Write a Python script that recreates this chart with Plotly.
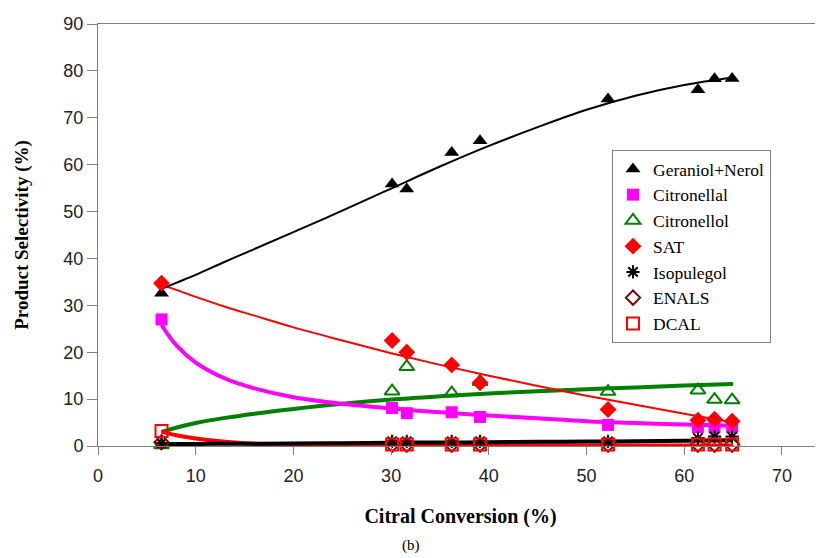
import plotly.graph_objects as go

# Measured data (Citral conversion % vs product selectivity %)
conversion = [6.5, 30.1, 31.6, 36.2, 39.1, 52.2, 61.4, 63.1, 64.9]
geraniol_nerol = [32.6, 55.9, 54.8, 62.6, 65.1, 74.0, 76.0, 78.3, 78.4]
citronellal = [27.0, 8.1, 7.0, 7.2, 6.2, 4.5, 4.0, 4.0, 4.0]
citronellol = [0.2, 11.7, 16.9, 11.3, 13.7, 11.6, 11.9, 9.9, 9.8]
sat = [34.7, 22.5, 20.0, 17.3, 13.5, 7.8, 5.5, 5.7, 5.3]
isopulegol = [0.6, 1.0, 1.0, 1.0, 1.0, 1.0, 1.7, 2.0, 2.0]
enals = [0.8, 0.3, 0.3, 0.3, 0.3, 0.3, 0.3, 0.3, 0.3]
dcal = [3.2, 0.3, 0.3, 0.3, 0.3, 0.3, 0.3, 0.3, 0.3]

# Trend (fit) curves
fit_x = [6.5, 8, 10, 13, 16, 20, 25, 30, 35, 40, 45, 50, 55, 60, 65]
fit_geraniol = [33.5, 34.8, 36.5, 39.3, 42.0, 45.6, 50.2, 54.9, 59.6, 64.0, 68.0, 71.7, 74.7, 77.0, 78.6]
fit_citronellal = [25.8, 21.5, 17.8, 14.4, 12.3, 10.4, 9.0, 8.0, 7.2, 6.5, 5.9, 5.3, 4.9, 4.6, 4.3]
fit_citronellol = [3.0, 3.9, 4.9, 6.0, 6.9, 7.9, 9.0, 9.9, 10.6, 11.2, 11.7, 12.1, 12.5, 12.9, 13.2]
fit_sat = [34.4, 33.3, 31.8, 29.7, 27.8, 25.3, 22.5, 19.8, 17.3, 15.0, 12.8, 10.7, 8.8, 6.9, 5.0]
fit_dcal = [3.0, 2.3, 1.6, 0.9, 0.5, 0.25, 0.15, 0.1, 0.1, 0.1, 0.1, 0.1, 0.1, 0.1, 0.1]
fit_isopulegol = [0.4, 0.4, 0.45, 0.5, 0.5, 0.55, 0.6, 0.7, 0.75, 0.8, 0.9, 0.95, 1.0, 1.1, 1.2]

x_ticks = [0, 10, 20, 30, 40, 50, 60, 70]
y_ticks = [0, 10, 20, 30, 40, 50, 60, 70, 80, 90]

fig = go.Figure()

marker_series = [
    ("Geraniol+Nerol", geraniol_nerol, dict(symbol="triangle-up", size=13, color="black")),
    ("Citronellal", citronellal, dict(symbol="square", size=12, color="#ff00ff")),
    ("Citronellol", citronellol, dict(symbol="triangle-up-open", size=13, color="#008000",
                                      line=dict(width=2, color="#008000"))),
    ("SAT", sat, dict(symbol="diamond", size=13, color="#ff0000")),
    ("Isopulegol", isopulegol, dict(symbol="asterisk-open", size=11, color="black",
                                    line=dict(width=2, color="black"))),
    ("ENALS", enals, dict(symbol="diamond-open", size=11, color="#800000",
                          line=dict(width=2, color="#800000"))),
    ("DCAL", dcal, dict(symbol="square-open", size=12, color="#ff0000",
                        line=dict(width=2, color="#ff0000"))),
]

fit_series = [
    (fit_citronellol, "#008000", 4),
    (fit_citronellal, "#ff00ff", 4),
    (fit_sat, "#ff0000", 2),
    (fit_dcal, "#ff0000", 4),
    (fit_isopulegol, "black", 4),
    (fit_geraniol, "black", 2),
]

for ys, col, w in fit_series:
    fig.add_trace(go.Scatter(x=fit_x, y=ys, mode="lines", line=dict(color=col, width=w, shape="spline"),
                             showlegend=False, hoverinfo="skip"))

for name, ys, mk in marker_series:
    fig.add_trace(go.Scatter(x=conversion, y=ys, mode="markers", name=name, marker=mk, cliponaxis=False))

axis_font = dict(family="Liberation Sans, Arial", size=18, color="#222")
serif = "Liberation Serif, Times New Roman"

# The page body has an 8px margin, so the figure is sized to fit the 823x558 window.
fig.update_layout(
    width=815, height=550,
    margin=dict(l=90, r=0, t=16, b=112, autoexpand=False),
    paper_bgcolor="white", plot_bgcolor="white",
    showlegend=True,
    legend=dict(x=(612 - 98) / 725, y=(446 - 150) / 422, xanchor="left", yanchor="top",
                bordercolor="#808080", borderwidth=1, bgcolor="white",
                font=dict(family=serif, size=17.5, color="black"),
                tracegroupgap=0, itemwidth=30, entrywidth=120, entrywidthmode="pixels"),
    xaxis=dict(range=[0, 74.2], tickvals=x_ticks, showgrid=False, zeroline=False, automargin=False,
               showline=True, linecolor="#808080", linewidth=1, mirror=True,
               ticks="outside", ticklen=8, tickcolor="#808080", tickfont=axis_font,
               ticklabelstandoff=5,
               title=dict(text="<b>Citral Conversion (%)</b>", font=dict(family=serif, size=20, color="black"),
                          standoff=24)),
    yaxis=dict(range=[0, 90], tickvals=y_ticks, showgrid=False, zeroline=False, automargin=False,
               showline=True, linecolor="#808080", linewidth=1,
               ticks="outside", ticklen=10, tickcolor="#808080", tickfont=axis_font,
               title=dict(text="<b>Product Selectivity (%)</b>", font=dict(family=serif, size=19, color="black"),
                          standoff=29)),
    annotations=[dict(text="(b)", x=(411 - 98) / 725, y=-(545 - 446) / 422, xref="paper", yref="paper",
                      showarrow=False, xanchor="center", yanchor="middle",
                      font=dict(family=serif, size=15, color="black"))],
)

fig.write_html("out.html")
